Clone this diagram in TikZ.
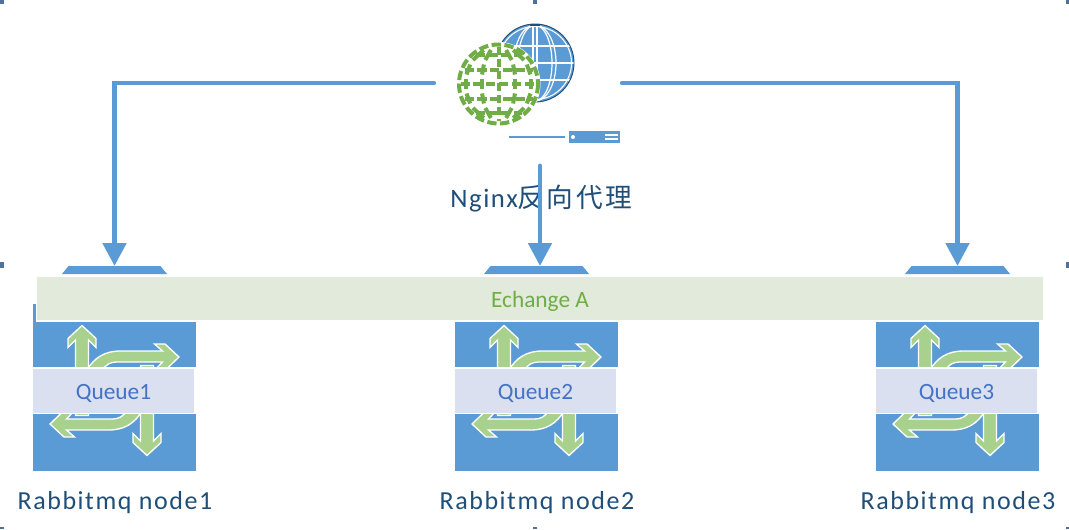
\documentclass[tikz,border=0pt]{standalone}
\usepackage{fontspec}
\setmainfont{Carlito}
\newfontfamily\cjkfont[LetterSpace=9]{Noto Sans CJK SC}
\newfontfamily\spacedfont[LetterSpace=6]{Carlito}
\usetikzlibrary{shapes.geometric, arrows.meta, positioning}
\definecolor{nodeblue}{RGB}{91, 155, 213}
\definecolor{darkblue}{RGB}{31, 78, 121}
\definecolor{leafgreen}{RGB}{112, 173, 71}
\definecolor{arrowgreen}{RGB}{169, 209, 142}
\definecolor{bandgreen}{RGB}{226, 234, 219}
\definecolor{queuegray}{RGB}{218, 224, 239}
\definecolor{queuetext}{RGB}{68, 114, 196}
\definecolor{markblue}{RGB}{79, 113, 160}

\begin{document}
\begin{tikzpicture}[
    x=0.75pt, y=-0.75pt,
    body/.style={rectangle, minimum width=122.25pt, minimum height=125pt, inner sep=0pt, fill=nodeblue, draw=none},
    band/.style={rectangle, minimum width=755pt, minimum height=33.5pt, inner sep=0pt, fill=bandgreen, draw=white, line width=1.2pt, text=leafgreen, font=\fontsize{17.5}{20}\selectfont},
    queue/.style={rectangle, minimum width=122.25pt, minimum height=34pt, inner sep=0pt, fill=queuegray, draw=white, line width=1pt, text=queuetext, font=\fontsize{17.5}{20}\selectfont},
    hostlabel/.style={text=darkblue, inner sep=0pt, font=\fontsize{19.5}{23}\spacedfont},
    proxybox/.style={rectangle, minimum width=141pt, minimum height=97.5pt, inner sep=0pt},
    swirl/.style={fill=arrowgreen, draw=white, line width=1pt, line join=miter},
    link/.style={draw=nodeblue, line width=3.7pt, line cap=round, -{Triangle[width=17.25pt, length=17.25pt]}},
    greenline/.style={draw=leafgreen, line width=3pt}
]

    % Edge ticks
    \foreach \mx/\my/\mh in {0/0/3.5, 533/0/3.5, 1065.5/0/3.5, 0/262/6, 1065.5/262/6, 0/527/2, 533/527/2, 1065.5/527/2}
        \fill[markblue] (\mx,\my) rectangle +(3.5,\mh);
    \useasboundingbox (0,0) rectangle (1069,529);

    % Proxy icon
    \node[proxybox] (proxy) at (528,83) {};
    \begin{scope}
        \clip (535,63) circle[radius=39];
        \fill[nodeblue] (535,63) circle[radius=39];
        \foreach \r in {17,21}
            \draw[white, line width=0.9pt] (535,63) ellipse[x radius=\r, y radius=38];
        \draw[white, line width=0.9pt] (533,24) -- (533,102) (537,24) -- (537,102);
        \foreach \h in {-17,0,17}
            \draw[white, line width=1.4pt] (496,63+\h) -- (574,63+\h);
        \draw[white, line width=0.8pt] (535,63) circle[radius=36.5];
    \end{scope}
    \draw[darkblue, line width=0.7pt] (535,63) circle[radius=39];
    \fill[darkblue] (530,23.5) rectangle (540,25.5);
    \fill[white] (498.5,84) circle[radius=42];
    \begin{scope}[greenline, shift={(498.5,84)}]
        \draw[dash pattern=on 7pt off 2.6pt] (0,0) circle[radius=39.5];
        \draw[dash pattern=on 6pt off 3pt] (0,-37) -- (0,37);
        \foreach \h/\w in {-29/23, -14.5/34, 0/38, 14.5/34, 29/23}
            \draw[dash pattern=on 7pt off 2.6pt] (-\w,\h) -- (\w,\h);
        \foreach \r in {17,33}
            \foreach \h in {-29,-14.5,0,14.5,29} {
                \draw ({-\r*sqrt(1-((\h-5)/38)^2)},\h-5) -- ({-\r*sqrt(1-((\h+5)/38)^2)},\h+5);
                \draw ({\r*sqrt(1-((\h-5)/38)^2)},\h-5) -- ({\r*sqrt(1-((\h+5)/38)^2)},\h+5);
            }
    \end{scope}
    \draw[nodeblue, line width=1.5pt] (509,137) -- (565,137);
    \fill[nodeblue] (569,131) rectangle (620,143);
    \fill[white] (573,137) circle[radius=2];
    \draw[white, line width=0.8pt] (605,135) -- (618,135) (605,139) -- (618,139);

    % Rabbitmq nodes
    \foreach \i/\cx/\qx/\lx in {1/114.5/113.5/115, 2/536.5/535.5/537, 3/957.5/956.5/958} {
        \node[body] (body\i) at (\cx,387.5) {};
        \begin{scope}[shift={(\cx,390.5)}]
            \fill[nodeblue] (-52.5,-116.5) -- (-46,-124.5) -- (46,-124.5) -- (52.5,-116.5) -- cycle;
            \coordinate (cap\i) at (0,-124.5);
            \foreach \a in {0,180} {
                \begin{scope}[rotate=\a]
                    \draw[swirl] (-39,25) -- (-39,-50.5) -- (-46.5,-43) -- (-46.5,-52) -- (-32.5,-65) -- (-18.5,-52) -- (-18.5,-43) -- (-26,-50.5) -- (-26,25) -- cycle;
                    \draw[swirl] (-28,-20) .. controls (-20,-33) and (-10,-39.5) .. (6,-39.5) -- (48,-39.5) -- (40,-46.5) -- (50.5,-46.5) -- (64.5,-33.5) -- (50.5,-20) -- (40,-20) -- (48,-28.5) -- (2,-28.5) .. controls (-4,-28.5) and (-9,-26) .. (-12,-20) -- cycle;
                \end{scope}
            }
        \end{scope}
        \node[queue] (queue\i) at (\qx,390.5) {\raisebox{-6.75pt}[0pt][0pt]{Queue\i}};
        \node[hostlabel] (host\i) at (\lx,503) {Rabbitmq node\i};
    }

    % Exchange
    \node[band] (exchange) at (540,298.5) {\raisebox{-6.75pt}[0pt][0pt]{Echange A}};

    % Title
    \node[inner sep=0pt, text=darkblue, font=\fontsize{20}{24}\selectfont] (title) at (541,198.5) {{\spacedfont Nginx}{\cjkfont 反向代理}};
    \coordinate (midstart) at (540,166);

    % Connections
    \draw[link] (proxy.west) -| (cap1);
    \draw[link] (proxy.east) -| (cap3);
    \draw[link] (midstart) -- (midstart |- cap2);

\end{tikzpicture}
\end{document}
